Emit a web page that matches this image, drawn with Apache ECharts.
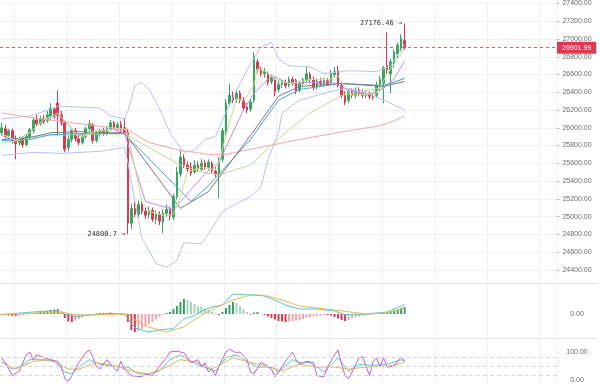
<!DOCTYPE html>
<html><head><meta charset="utf-8">
<script src="https://cdn.jsdelivr.net/npm/echarts/dist/echarts.min.js"></script>
<style>html,body{margin:0;padding:0;background:#fff}#c{width:600px;height:384px}</style>
</head><body><div id="c"></div>
<script>
// ---- candle data (index 0..115) ----
const openP = [25945,25989,25912,25967,25857,25834,25879,25812,25901,25967,
26089,26045,26100,26078,26133,26211,26277,26145,26056,25779,
25868,25967,25879,25834,25901,25989,26034,25857,25934,25967,
25934,25989,26056,26000,26034,26000,25945,24926,25092,25026,
25137,25059,25026,25070,24970,25026,24937,25037,25081,24993,
25225,25480,25657,25580,25557,25502,25580,25535,25602,25557,
25602,25513,25480,25646,25956,26277,26355,26322,26388,26311,
26233,26211,26311,26743,26654,26610,26610,26521,26543,26432,
26488,26510,26477,26543,26532,26421,26499,26532,26599,26543,
26466,26521,26499,26532,26510,26599,26643,26477,26366,26311,
26410,26366,26421,26399,26366,26388,26355,26366,26455,26499,
26698,26610,26721,26831,26887,26986];
const closeP = [26000,25912,25967,25857,25823,25879,25812,25901,25978,26089,
26045,26100,26067,26145,26222,26133,26145,26056,25757,25868,
25967,25879,25834,25901,25989,26045,25857,25934,25967,25934,
25989,26056,26000,26034,25978,25945,24926,25092,25026,25137,
25059,25015,25070,24970,25026,24948,25037,25081,25004,25225,
25502,25668,25580,25535,25491,25580,25535,25602,25557,25613,
25513,25480,25635,25967,26277,26366,26311,26388,26311,26222,
26200,26288,26809,26654,26610,26632,26510,26565,26410,26488,
26510,26477,26543,26510,26410,26499,26543,26610,26543,26455,
26521,26499,26532,26499,26610,26632,26477,26366,26288,26410,
26366,26421,26388,26366,26388,26355,26344,26477,26543,26676,
26654,26743,26853,26931,27008,26901.99];
const lowP = [25912,25879,25868,25823,25646,25801,25779,25790,25868,25934,
26023,26023,26045,26056,26089,26100,25912,26023,25724,25735,
25834,25845,25801,25812,25879,25967,25823,25834,25901,25912,
25912,25967,25978,25967,25945,25923,24800.7,24860,24993,24993,
25026,24970,24982,24937,24915,24904,24815,24993,24959,24959,
25192,25447,25546,25502,25458,25480,25502,25513,25524,25524,
25480,25447,25203,25613,25912,26244,26277,26288,26277,26189,
26167,26178,26277,26621,26576,26565,26477,26488,26355,26399,
26444,26444,26455,26477,26377,26399,26477,26510,26510,26421,
26432,26466,26466,26477,26488,26565,26455,26333,26255,26277,
26333,26333,26355,26333,26333,26322,26311,26333,26410,26277,
26610,26388,26676,26787,26853,26876];
const highP = [26056,26034,25989,25989,25912,25901,25901,25934,26000,26122,
26145,26133,26145,26189,26277,26233,26421,26189,26078,25912,
25989,26000,25912,25934,26012,26089,26056,25956,25989,26000,
26023,26089,26078,26067,26078,26111,25989,25148,25170,25181,
25170,25103,25114,25103,25070,25059,25081,25137,25114,25258,
25557,25746,25701,25624,25613,25635,25624,25646,25635,25646,
25624,25557,25668,26000,26322,26499,26410,26432,26421,26344,
26277,26322,26853,26776,26687,26676,26632,26599,26565,26532,
26543,26543,26576,26576,26554,26532,26565,26687,26632,26576,
26554,26565,26565,26565,26654,26687,26698,26499,26410,26432,
26444,26455,26455,26432,26421,26410,26388,26521,26588,26698,
27075,26776,26887,26964,27053,27176.46];

// ---- main-chart indicator lines, read as [candle index, price] ----
const bollUpper = [[0,26100],[8,26133],[14,26211],[16,26244],[28,26222],[31,26133],[35,26100],[36,26189],[38,26477],[40,26510],[42,26432],[45,26222],[48,25945],[52,25724],[55,25746],[58,25868],[61,25901],[63,26089],[67,26421],[71,26720],[74,26909],[77,26964],[79,26776],[82,26698],[88,26687],[92,26610],[99,26643],[107,26632],[111,26698],[115,26942]];
const bollLower = [[0,25690],[9,25724],[17,25712],[28,25735],[35,25779],[36,25613],[38,25170],[40,24760],[44,24472],[47,24428],[50,24505],[52,24705],[57,24694],[59,24804],[63,25059],[67,25148],[71,25225],[74,25336],[76,25646],[79,25945],[80,26167],[85,26311],[95,26421],[99,26444],[104,26388],[109,26311],[114,26222],[115,26200]];
const maLong = [[0,26167],[9,26111],[20,26056],[36,25978],[42,25834],[51,25746],[59,25701],[64,25701],[71,25757],[85,25868],[99,25967],[108,26023],[112,26078],[115,26133]];
const maSlow = [[0,25834],[5,25857],[11,25912],[20,25923],[35,25934],[51,25580],[57,25502],[62,25469],[71,25580],[80,25912],[88,26167],[97,26366],[109,26455],[115,26565]];
const maBlue = [[0,25857],[8,25868],[14,25923],[22,25934],[31,25934],[35,25934],[54,25170],[59,25347],[71,25868],[79,26311],[85,26432],[97,26499],[109,26477],[115,26554]];
const maGray = [[0,25868],[8,25890],[14,25945],[22,25956],[31,25945],[35,25945],[51,25092],[59,25281],[71,25912],[79,26355],[85,26466],[97,26499],[109,26466],[115,26521]];
const maPurple = [[0,25912],[4,25857],[8,25945],[12,26089],[16,26145],[19,26034],[22,25912],[27,25967],[31,25989],[35,25945],[41,25170],[49,25081],[58,25480],[62,25613],[69,26200],[72,26388],[77,26588],[82,26499],[94,26521],[98,26444],[104,26366],[109,26444],[112,26554],[115,26754]];
const maFast = [[0,25934],[4,25857],[8,25945],[12,26089],[16,26167],[19,26045],[22,25879],[27,25967],[31,25978],[35,25989],[36,25923],[38,25557],[40,25170],[42,25059],[47,25004],[49,25026],[51,25225],[53,25502],[57,25557],[61,25524],[62,25613],[64,25912],[67,26333],[69,26300],[72,26477],[73,26665],[75,26643],[78,26543],[82,26499],[88,26543],[94,26554],[96,26588],[98,26444],[100,26366],[107,26388],[109,26532],[111,26665],[114,26831],[115,26909]];

// ---- MACD ----
const macdHist = [-10,-10,-15,-20,-20,-15,-10,-5,5,10,
15,20,25,30,40,45,50,30,-40,-75,
-80,-65,-50,-35,-20,-10,-5,5,10,10,
10,15,10,5,-5,-10,-80,-160,-180,-170,
-150,-125,-100,-80,-55,-30,-10,10,20,50,
80,120,150,140,120,100,80,70,55,40,
25,10,-10,20,60,90,120,110,80,50,
20,-5,15,20,5,-10,-25,-40,-55,-70,
-75,-80,-75,-70,-65,-60,-50,-40,-30,-25,
-20,-15,-10,-10,-15,-30,-45,-60,-70,-60,
-45,-35,-25,-20,-15,-10,-5,5,10,15,
15,25,35,45,60,70];
const macdDif = [[0,-5],[9,20],[15,35],[17,10],[21,-30],[25,-10],[31,5],[35,0],[38,-140],[42,-180],[45,-160],[49,-145],[52,-50],[55,-20],[57,30],[60,70],[63,90],[66,200],[71,190],[74,190],[78,140],[81,90],[85,50],[90,50],[95,30],[98,-5],[104,0],[110,20],[115,95]];
const macdDea = [[0,-5],[11,10],[17,20],[21,-10],[27,-10],[35,0],[37,-40],[42,-130],[47,-180],[52,-130],[57,-10],[61,60],[66,140],[71,190],[76,180],[80,140],[85,80],[95,40],[104,0],[110,10],[115,60]];

// ---- KDJ ----
const kdjK = [[0,67],[3,40],[5,47],[8,73],[12,73],[15,67],[18,30],[20,23],[22,47],[25,73],[28,57],[32,50],[36,47],[39,23],[42,23],[45,33],[48,73],[51,90],[54,67],[57,50],[61,33],[64,80],[67,90],[70,67],[73,47],[77,47],[79,30],[83,73],[85,63],[88,63],[92,30],[96,80],[99,33],[102,57],[106,53],[110,57],[114,73],[115,67]];
const kdjD = [[0,63],[4,40],[9,67],[14,73],[19,40],[22,40],[27,63],[33,50],[37,33],[42,23],[47,47],[51,73],[56,63],[60,40],[66,80],[71,63],[76,50],[80,33],[85,57],[90,47],[95,47],[99,40],[104,47],[110,50],[115,63]];
const kdjJ = [[0,80],[1,63],[3,17],[5,33],[7,90],[8,100],[9,73],[10,90],[12,80],[14,73],[16,67],[17,47],[18,7],[19,-3],[20,17],[22,63],[24,97],[25,107],[26,83],[27,50],[28,40],[30,73],[31,57],[33,33],[34,67],[35,40],[37,17],[40,13],[41,23],[43,17],[45,50],[47,80],[48,100],[50,103],[52,97],[54,63],[56,73],[57,47],[58,63],[59,30],[60,40],[61,17],[62,50],[64,100],[65,110],[67,97],[68,100],[70,73],[71,30],[72,23],[74,63],[75,57],[77,40],[78,13],[79,30],[81,67],[83,100],[84,73],[85,57],[87,67],[89,63],[90,17],[92,13],[93,47],[95,90],[96,107],[97,57],[98,17],[99,7],[100,30],[102,80],[103,83],[104,50],[105,17],[106,67],[107,80],[108,47],[109,80],[110,47],[112,50],[114,83],[115,67]];
const kdjLevels = [80, 50, 20];

// ---- axis ticks ----
const priceMin = 24200, priceMax = 27400, priceStep = 200;

// ---- build ----
const N = 159;
const cats = []; for (let i = 0; i < N; i++) cats.push('c' + i);
const candle = openP.map((o, i) => [o, closeP[i], lowP[i], highP[i]]);
const lastClose = closeP[closeP.length - 1];
const hiVal = Math.max(...highP), hiIdx = highP.indexOf(hiVal);
const loVal = Math.min(...lowP), loIdx = lowP.indexOf(loVal);
const UP = '#37a564', DN = '#db3750';
const GRID = '#edf1f4';
const splitFn = (idx) => (idx - 4) % 15 === 0;
const xAx = (gi, split) => ({type: 'category', gridIndex: gi, data: cats, boundaryGap: true,
  axisLine: {show: false}, axisTick: {show: false}, axisLabel: {show: false},
  splitLine: {show: split, interval: splitFn, lineStyle: {color: GRID, width: 1}}});
const lbl = {fontSize: 7, color: '#6a6a6a', fontFamily: 'Liberation Sans', align: 'center', margin: 20};
const line = (data, color, xi, yi, extra) => Object.assign({type: 'line', data, xAxisIndex: xi, yAxisIndex: yi,
  symbol: 'none', lineStyle: {width: 1, color}, itemStyle: {color}, silent: true, z: 3}, extra || {});

const histData = macdHist.map((v, i) => {
  const p = i > 0 ? macdHist[i - 1] : 0;
  let c;
  if (v >= 0) c = v >= p ? '#2f9d62' : '#9ed6b5'; else c = v <= p ? '#d8344c' : '#f1a2ac';
  return {value: v, itemStyle: {color: c}};
});

const option = {
  animation: false,
  backgroundColor: '#fff',
  grid: [
    {left: 0, right: 43, top: 0, height: 287.6},
    {left: 0, right: 43, top: 283, height: 55},
    {left: 0, right: 43, top: 352, height: 30},
    {left: 0, right: 43, top: 338, height: 46}
  ],
  xAxis: [xAx(0, true), xAx(1, true), xAx(2, false), xAx(3, true)],
  yAxis: [
    {type: 'value', gridIndex: 0, position: 'right', min: priceMin, max: priceMax, interval: priceStep,
     axisLine: {show: false}, axisTick: {show: true, length: 3, lineStyle: {color: '#c8c8c8'}},
     axisLabel: Object.assign({showMinLabel: false, formatter: v => v.toFixed(2)}, lbl),
     splitLine: {show: true, showMinLine: false, lineStyle: {color: GRID}}},
    {type: 'value', gridIndex: 1, position: 'right', min: -240, max: 310, interval: 240,
     axisLine: {show: false}, axisTick: {show: false},
     axisLabel: Object.assign({formatter: v => v === 0 ? '0.00' : ''}, lbl),
     splitLine: {show: false}},
    {type: 'value', gridIndex: 2, position: 'right', min: 0, max: 100, interval: 100,
     axisLine: {show: false}, axisTick: {show: false},
     axisLabel: Object.assign({formatter: v => v.toFixed(2)}, lbl),
     splitLine: {show: false}},
    {type: 'value', gridIndex: 3, show: false, min: 0, max: 1}
  ],
  graphic: [
    {type: 'line', shape: {x1: 557.5, y1: 0, x2: 557.5, y2: 384}, style: {stroke: '#dfe3e7', lineWidth: 1}, silent: true},
    {type: 'line', shape: {x1: 0, y1: 283.5, x2: 597, y2: 283.5}, style: {stroke: '#dfe3e7', lineWidth: 1}, silent: true},
    {type: 'line', shape: {x1: 0, y1: 338.5, x2: 597, y2: 338.5}, style: {stroke: '#dfe3e7', lineWidth: 1}, silent: true}
  ],
  series: [
    line(bollUpper, '#b7c3ec', 0, 0),
    line(bollLower, '#b7c3ec', 0, 0),
    line(maLong, '#f2a7a0', 0, 0),
    line(maSlow, '#b9dc9c', 0, 0),
    {type: 'candlestick', xAxisIndex: 0, yAxisIndex: 0, data: candle, barWidth: '62%', z: 2,
     itemStyle: {color: UP, color0: DN, borderColor: UP, borderColor0: DN, borderWidth: 1},
     markLine: {silent: true, symbol: ['none', 'none'], data: [{yAxis: lastClose}],
       lineStyle: {color: '#e35a6e', type: [3, 3], width: 1},
       label: {show: true, position: 'end', distance: 0, formatter: () => lastClose.toFixed(2),
         color: '#fff', backgroundColor: '#e0384f', padding: [3, 5, 2, 5], fontSize: 7, fontFamily: 'Liberation Sans'}},
     markPoint: {silent: true, symbol: 'circle', symbolSize: 1, itemStyle: {color: 'rgba(0,0,0,0)'},
       data: [
         {coord: [cats[hiIdx], hiVal], label: {show: true, position: 'left', distance: 2,
           formatter: () => String(hiVal) + ' →', fontFamily: 'DejaVu Sans Mono', fontSize: 7, color: '#333'}},
         {coord: [cats[loIdx], loVal], label: {show: true, position: 'left', distance: 2,
           formatter: () => String(loVal) + ' →', fontFamily: 'DejaVu Sans Mono', fontSize: 7, color: '#333'}}
       ]}},
    line(maBlue, '#4aa3d6', 0, 0),
    line(maGray, '#7a7a7a', 0, 0),
    line(maPurple, '#c38ee6', 0, 0),
    line(maFast, '#c8e08f', 0, 0),
    {type: 'bar', xAxisIndex: 1, yAxisIndex: 1, data: histData, barWidth: '55%', silent: true},
    line(macdDif, '#55c7c6', 1, 1),
    line(macdDea, '#e6b65c', 1, 1),
    line(kdjK, '#56cbc4', 2, 2, {clip: false,
      markLine: {silent: true, symbol: ['none', 'none'], label: {show: false},
        lineStyle: {color: '#d6d6d6', type: [4, 3], width: 1},
        data: kdjLevels.map(v => ({yAxis: v}))}}),
    line(kdjD, '#e6b45a', 2, 2, {clip: false}),
    line(kdjJ, '#c35cd6', 2, 2, {clip: false})
  ]
};
echarts.init(document.getElementById('c')).setOption(option);
</script>
</body></html>
